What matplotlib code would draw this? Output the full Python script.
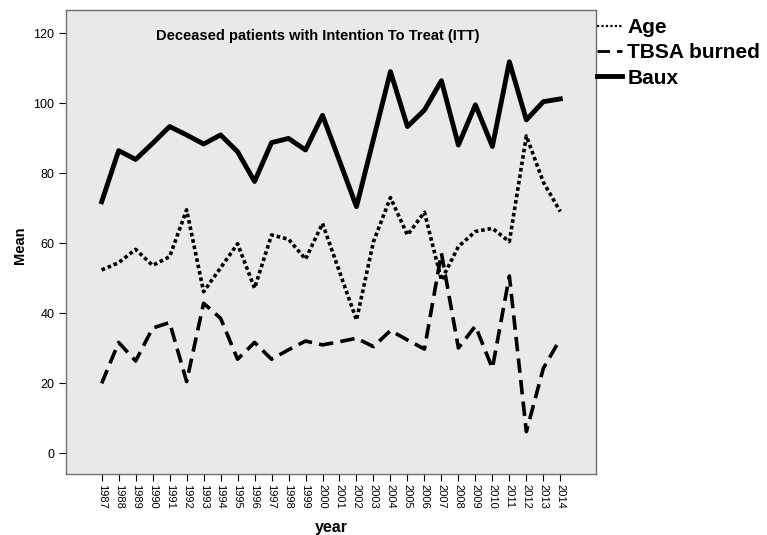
import numpy as np
import matplotlib
matplotlib.use('Agg')
import matplotlib.pyplot as plt
from matplotlib.lines import Line2D

plt.rcParams['font.family'] = ['Liberation Sans', 'DejaVu Sans']

years = list(range(1987, 2015))
age = [52.4, 54.5, 58.3, 53.7, 56.2, 69.6, 46.2, 53.0, 59.9, 47.2,
       62.4, 61.2, 55.5, 65.7, 51.9, 38.1, 60.5, 73.1, 62.4, 68.9,
       49.5, 59.1, 63.4, 64.3, 60.5, 90.7, 77.5, 69.1]
tbsa = [20.0, 31.7, 26.4, 35.8, 37.4, 20.5, 42.9, 38.6, 26.9, 31.7,
        26.9, 29.6, 32.1, 31.0, 31.9, 32.9, 30.5, 35.1, 32.4, 29.8,
        57.2, 30.1, 36.4, 24.3, 50.7, 6.2, 24.3, 32.7]
baux = [71.9, 86.5, 84.0, 88.6, 93.4, 91.0, 88.4, 91.0, 86.2, 77.7,
        88.8, 90.0, 86.7, 96.6, 83.6, 70.5, 89.8, 109.1, 93.4, 98.1,
        106.5, 88.1, 99.6, 87.7, 111.9, 95.3, 100.5, 101.3]

fig = plt.figure(figsize=(7.67, 5.35), dpi=100)
ax = fig.add_axes([66/767, 61/535, 530/767, 464/535])
ax.set_facecolor('#EAE9E7')

ax.plot(years, age, color='black', lw=2.6, linestyle=(0, (1, 0.8)))
ax.plot(years, tbsa, color='black', lw=2.6, linestyle=(0, (4, 2)))
ax.plot(years, baux, color='black', lw=3.5, linestyle='-')

ax.set_xlim(1984.9, 2016.1)
ax.set_ylim(-5.9, 126.7)
ax.set_xticks(years)
ax.set_xticklabels([str(y) for y in years], rotation=270, fontsize=8)
ax.set_yticks([0, 20, 40, 60, 80, 100, 120])
ax.tick_params(axis='y', labelsize=9, length=5, direction='out')
ax.tick_params(axis='x', length=5, direction='out', pad=2)
for s in ax.spines.values():
    s.set_color('#707070')
    s.set_linewidth(1)

ax.text(0.475, 0.944, 'Deceased patients with Intention To Treat (ITT)',
        transform=ax.transAxes, ha='center', va='center',
        fontsize=10.5, fontweight='bold')

fig.text(20/767, 1 - 245/535, 'Mean', rotation=90, ha='center', va='center',
         fontsize=10.5, fontweight='bold')
ax.set_xlabel('year', fontsize=11.5, fontweight='bold', labelpad=8)

# legend handles are thinner than the plotted lines
handles = [Line2D([], [], color='black', lw=1.6, linestyle=(0, (1, 1))),
           Line2D([], [], color='black', lw=2.0, linestyle=(0, (4.5, 2.5))),
           Line2D([], [], color='black', lw=3.5, linestyle='-')]
labels = ['Age', 'TBSA burned', 'Baux']
fig.legend(handles, labels, loc='upper left',
           bbox_to_anchor=(595/767, 1 - 16/535), bbox_transform=fig.transFigure,
           frameon=False, prop={'size': 15, 'weight': 'bold'},
           handlelength=1.2, handletextpad=0.25, labelspacing=0.3,
           borderpad=0.1, borderaxespad=0)

fig.savefig('out.png', dpi=100)
